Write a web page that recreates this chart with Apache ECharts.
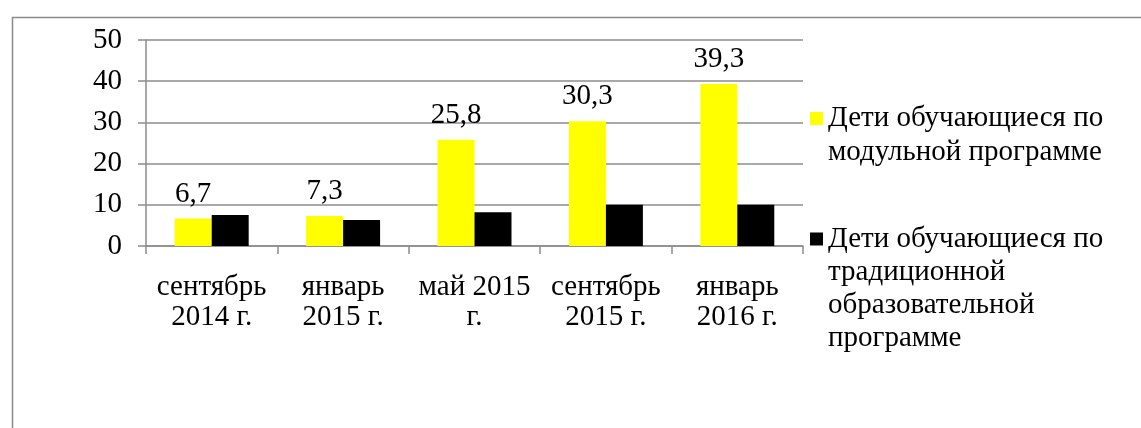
<!DOCTYPE html>
<html>
<head>
<meta charset="utf-8">
<script src="https://cdn.jsdelivr.net/npm/echarts@6/dist/echarts.min.js"></script>
<style>
html,body{margin:0;padding:0;background:#fff;}
#c{width:1141px;height:428px;}
</style>
</head>
<body>
<div id="c"></div>
<script>
const categories = ["сентябрь\n2014 г.", "январь\n2015 г.", "май 2015\nг.", "сентябрь\n2015 г.", "январь\n2016 г."];
const modularValues = [6.7, 7.3, 25.8, 30.3, 39.3];
const traditionalValues = [7.5, 6.3, 8.2, 10.0, 10.0];
const seriesNames = ["Дети обучающиеся по модульной программе", "Дети обучающиеся по традиционной образовательной программе"];
const legendTexts = ["\nДети обучающиеся по\nмодульной программе", "\n\n\nДети обучающиеся по\nтрадиционной\nобразовательной\nпрограмме"];
const yTicks = {min: 0, max: 50, interval: 10};

const FONT = '"Liberation Serif", "Times New Roman", serif';
const FS = 29;
const GRID_COLOR = '#8c8c8c';
const chart = echarts.init(document.getElementById('c'));
chart.setOption({
  backgroundColor: '#ffffff',
  animation: false,
  textStyle: {fontFamily: FONT},
  graphic: [{
    type: 'rect', left: 10, top: 15, silent: true,
    shape: {x: 0, y: 0, width: 1300, height: 600},
    style: {fill: 'none', stroke: '#8a8a8a', lineWidth: 1.5}
  }],
  grid: {left: 146, right: 338, top: 40, bottom: 182, containLabel: false},
  legend: [0, 1].map(i => ({
    data: [seriesNames[i]],
    orient: 'vertical',
    left: 810,
    top: i === 0 ? 67.5 : 123.5,
    padding: 0,
    itemWidth: 13,
    itemHeight: 13,
    icon: 'rect',
    selectedMode: false,
    formatter: () => legendTexts[i],
    textStyle: {fontFamily: FONT, fontSize: FS, lineHeight: i === 0 ? 34 : 33, color: '#000'}
  })),
  xAxis: {
    type: 'category',
    data: categories,
    axisLine: {show: true, lineStyle: {color: GRID_COLOR, width: 1.5}},
    axisTick: {show: true, length: 8, alignWithLabel: false, lineStyle: {color: GRID_COLOR, width: 1.5}},
    axisLabel: {fontFamily: FONT, fontSize: FS, lineHeight: 30, color: '#000', margin: 26, interval: 0}
  },
  yAxis: {
    type: 'value',
    min: yTicks.min, max: yTicks.max, interval: yTicks.interval,
    axisLine: {show: true, lineStyle: {color: GRID_COLOR, width: 1.5}},
    axisTick: {show: true, length: 8, lineStyle: {color: GRID_COLOR, width: 1.5}},
    splitLine: {show: true, lineStyle: {color: GRID_COLOR, width: 1.5}},
    axisLabel: {fontFamily: FONT, fontSize: FS, color: '#000', margin: 24}
  },
  series: [
    {
      name: seriesNames[0], type: 'bar', data: modularValues,
      itemStyle: {color: '#ffff00'},
      barGap: '0%', barCategoryGap: '43.7%',
      label: {show: true, position: 'top', distance: 10, fontFamily: FONT, fontSize: FS, color: '#000',
        formatter: p => String(p.value).replace('.', ',')}
    },
    {
      name: seriesNames[1], type: 'bar', data: traditionalValues,
      itemStyle: {color: '#000000'},
      barGap: '0%', barCategoryGap: '43.7%'
    }
  ]
});
</script>
</body>
</html>
